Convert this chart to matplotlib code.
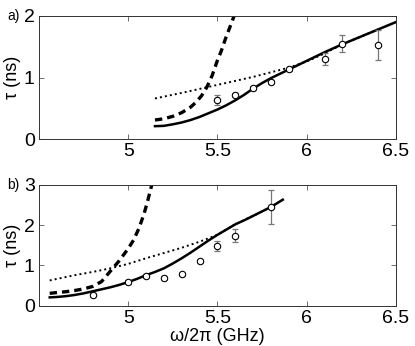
import matplotlib
matplotlib.use('Agg')
import matplotlib.pyplot as plt

plt.rcParams['font.family'] = ['Liberation Sans', 'DejaVu Sans']

# panel a) data
a_x = [5.5, 5.6, 5.7, 5.8, 5.9, 6.1, 6.2, 6.4]
a_y = [0.64, 0.72, 0.83, 0.93, 1.13, 1.30, 1.55, 1.53]
a_err = [0.08, 0.03, 0.03, 0.03, 0.03, 0.09, 0.14, 0.245]

a_solid_x = [5.15, 5.2, 5.25, 5.3, 5.35, 5.4, 5.45, 5.5, 5.55, 5.6, 5.65, 5.7, 5.75,
             5.8, 5.85, 5.9, 5.95, 6.0, 6.1, 6.2, 6.3, 6.4, 6.5]
a_solid_y = [0.21, 0.215, 0.24, 0.27, 0.31, 0.36, 0.42, 0.48, 0.55, 0.63, 0.72, 0.82, 0.91,
             0.99, 1.06, 1.13, 1.20, 1.27, 1.41, 1.54, 1.66, 1.78, 1.90]
a_dot_x = [5.15, 5.3, 5.5, 5.7, 5.9, 6.0, 6.1, 6.2, 6.3, 6.4, 6.5]
a_dot_y = [0.66, 0.75, 0.88, 1.01, 1.16, 1.26, 1.39, 1.54, 1.66, 1.78, 1.90]
a_dash_x = [5.15, 5.2, 5.25, 5.3, 5.35, 5.38, 5.41, 5.44, 5.47, 5.5, 5.52, 5.545, 5.57, 5.6]
a_dash_y = [0.31, 0.33, 0.37, 0.43, 0.52, 0.60, 0.70, 0.84, 1.03, 1.28, 1.42, 1.63, 1.82, 2.05]

# panel b) data
b_x = [4.8, 5.0, 5.1, 5.2, 5.3, 5.4, 5.5, 5.6, 5.8]
b_y = [0.26, 0.59, 0.74, 0.69, 0.785, 1.12, 1.48, 1.74, 2.45]
b_err = [0.05, 0.04, 0.04, 0.04, 0.04, 0.05, 0.13, 0.16, 0.43]

b_solid_x = [4.56, 4.6, 4.65, 4.7, 4.75, 4.8, 4.85, 4.9, 4.95, 5.0, 5.05, 5.1, 5.15, 5.2,
             5.25, 5.3, 5.35, 5.4, 5.45, 5.5, 5.55, 5.6, 5.65, 5.7, 5.75, 5.8, 5.866]
b_solid_y = [0.21, 0.22, 0.24, 0.27, 0.31, 0.36, 0.41, 0.46, 0.52, 0.59, 0.67, 0.76, 0.84, 0.93,
             1.05, 1.18, 1.32, 1.47, 1.62, 1.76, 1.89, 2.02, 2.12, 2.23, 2.34, 2.45, 2.63]
b_dot_x = [4.56, 4.7, 4.8, 4.9, 5.0, 5.1, 5.2, 5.3, 5.4, 5.5, 5.6, 5.7, 5.8, 5.866]
b_dot_y = [0.63, 0.76, 0.84, 0.93, 1.04, 1.18, 1.31, 1.44, 1.59, 1.76, 2.02, 2.23, 2.45, 2.63]
b_dash_x = [4.56, 4.6, 4.65, 4.7, 4.75, 4.8, 4.85, 4.9, 4.95, 5.0, 5.03, 5.06, 5.09, 5.11, 5.135]
b_dash_y = [0.31, 0.33, 0.35, 0.38, 0.42, 0.48, 0.60, 0.86, 1.12, 1.42, 1.63, 1.92, 2.30, 2.62, 3.05]

fig = plt.figure(figsize=(4.15, 3.46), dpi=100)
ax1 = fig.add_axes([0.094, 0.598, 0.860, 0.356])
ax2 = fig.add_axes([0.094, 0.116, 0.860, 0.350])


def draw(ax, sx, sy, dx, dy, ddx, ddy, px, py, pe):
    ax.plot(dx, dy, color='black', lw=1.4, ls=(0, (1, 1.6)))
    ax.plot(ddx, ddy, color='black', lw=2.4, ls=(0, (2.2, 1.5)))
    ax.plot(sx, sy, color='black', lw=1.8)
    ax.errorbar(px, py, yerr=pe, fmt='none', ecolor='#777777', elinewidth=0.9,
                capsize=2.5, capthick=0.9)
    ax.plot(px, py, 'o', ms=4.6, mfc='white', mec='black', mew=0.8)
    ax.set_xlim(4.5, 6.5)
    ax.set_xticks([5, 5.5, 6, 6.5])
    ax.set_xticklabels(['5', '5.5', '6', '6.5'])
    ax.tick_params(direction='in', top=True, right=True, length=3.5,
                   width=0.6, color='#555555', labelsize=14, pad=3)
    for s in ax.spines.values():
        s.set_linewidth(0.7)
        s.set_color('#333333')
    ax.set_ylabel('τ (ns)', fontsize=13, labelpad=2)


draw(ax1, a_solid_x, a_solid_y, a_dot_x, a_dot_y, a_dash_x, a_dash_y, a_x, a_y, a_err)
ax1.set_ylim(0, 2)
ax1.set_yticks([0, 1, 2])

draw(ax2, b_solid_x, b_solid_y, b_dot_x, b_dot_y, b_dash_x, b_dash_y, b_x, b_y, b_err)
ax2.set_ylim(0, 3)
ax2.set_yticks([0, 1, 2, 3])
ax2.set_xlabel('ω/2π (GHz)', fontsize=13, labelpad=1)

fig.text(0.017, 0.954, 'a)', fontsize=10, va='center', ha='left')
fig.text(0.017, 0.465, 'b)', fontsize=10, va='center', ha='left')

fig.savefig('out.png', dpi=100)
